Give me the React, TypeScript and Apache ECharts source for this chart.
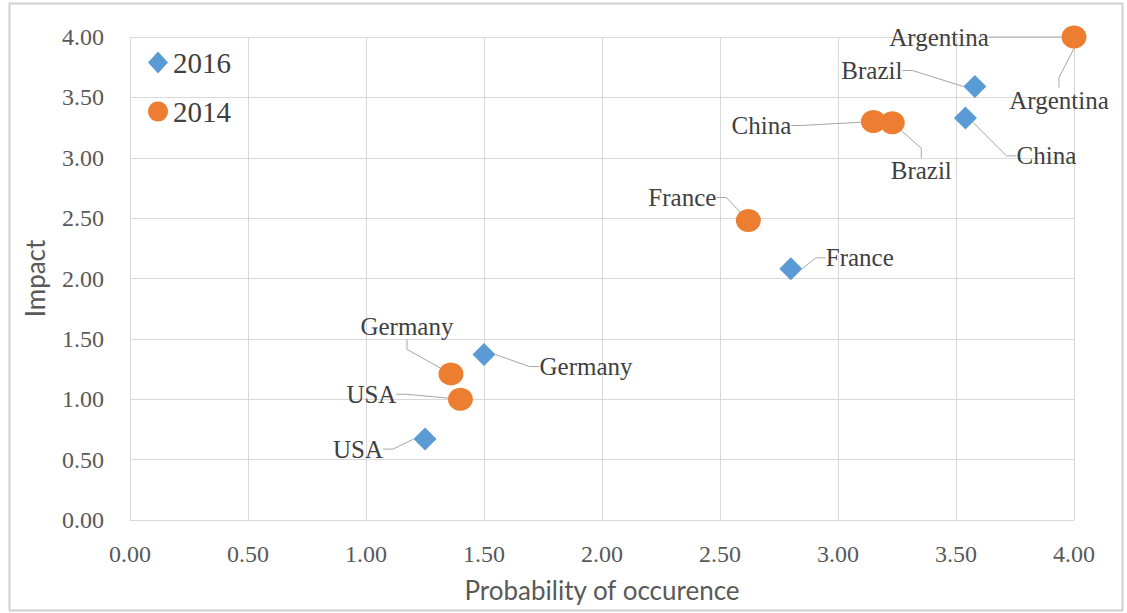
import React, { useEffect, useRef } from "react";
import * as echarts from "echarts";

// Countries plotted for each survey year
const countries2016 = ["Argentina", "Brazil", "China", "France", "Germany", "USA"];
const probability2016 = [4.0, 3.58, 3.54, 2.8, 1.5, 1.25];
const impact2016 = [4.0, 3.59, 3.33, 2.08, 1.37, 0.67];

const countries2014 = ["Argentina", "Brazil", "China", "France", "Germany", "USA"];
const probability2014 = [4.0, 3.23, 3.15, 2.62, 1.36, 1.4];
const impact2014 = [4.0, 3.29, 3.3, 2.48, 1.21, 1.0];

// Offsets (px) of each data label's centre from its point
const labelOffsets2016: [number, number][] = [
  [-15, 63],
  [-103, -16],
  [81, 38],
  [69, -11],
  [102, 12],
  [-67, 10],
];
const labelOffsets2014: [number, number][] = [
  [-135, 0],
  [29, 48],
  [-112, 4],
  [-66, -23],
  [-44, -47],
  [-89, -5],
];

const axisTicks = { min: 0, max: 4, interval: 0.5 };

const SERIF = "Liberation Serif";
const SANS = "Lato";

function buildSeries(
  name: string,
  names: string[],
  xs: number[],
  ys: number[],
  offsets: [number, number][],
  symbol: string,
  symbolSize: number | number[],
  color: string
) {
  return {
    name,
    type: "scatter",
    symbol,
    symbolSize,
    itemStyle: { color, opacity: 1 },
    data: names.map((n, i) => ({ name: n, value: [xs[i], ys[i]] })),
    label: {
      show: true,
      position: "inside",
      formatter: "{b}",
      fontFamily: SERIF,
      fontSize: 25,
      color: "#404040",
    },
    labelLayout: (params: any) => {
      const off = offsets[params.dataIndex] || [0, 0];
      return { dx: off[0], dy: off[1] };
    },
    labelLine: {
      show: true,
      length2: 10,
      lineStyle: { color: "#A6A6A6", width: 1 },
    },
  };
}

export default function App() {
  const ref = useRef<HTMLDivElement>(null);

  useEffect(() => {
    if (!ref.current) return;
    const chart = echarts.init(ref.current, undefined, { renderer: "svg" });

    const tickLabel = {
      fontFamily: SERIF,
      fontSize: 24,
      color: "#595959",
      formatter: (v: number) => v.toFixed(2),
    };

    const axisCommon = {
      type: "value",
      ...axisTicks,
      axisLine: { show: false },
      axisTick: { show: false },
      splitLine: { show: true, lineStyle: { color: "#D9D9D9", width: 1 } },
      nameTextStyle: { fontFamily: SANS, fontSize: 26, color: "#595959" },
    };

    chart.setOption({
      animation: false,
      backgroundColor: "#ffffff",
      textStyle: { fontFamily: SERIF },
      graphic: [
        {
          type: "rect",
          shape: { x: 9.5, y: 3.5, width: 1113, height: 607 },
          style: { fill: "none", stroke: "#D0D0D0", lineWidth: 2 },
          silent: true,
        },
      ],
      grid: { left: 130, right: 53, top: 37, bottom: 93, containLabel: false },
      legend: {
        orient: "vertical",
        left: 143,
        top: 43,
        itemWidth: 20,
        itemHeight: 22,
        itemGap: 20,
        itemStyle: { opacity: 1 },
        textStyle: { fontFamily: SERIF, fontSize: 29, color: "#404040", lineHeight: 28 },
        data: [
          { name: "2016", icon: "diamond" },
          { name: "2014", icon: "circle" },
        ],
      },
      xAxis: {
        ...axisCommon,
        name: "Probability of occurence",
        nameLocation: "middle",
        nameGap: 57,
        axisLabel: { ...tickLabel, margin: 22 },
      },
      yAxis: {
        ...axisCommon,
        name: "Impact",
        nameLocation: "middle",
        nameGap: 82,
        nameRotate: 90,
        axisLabel: { ...tickLabel, margin: 26 },
      },
      series: [
        buildSeries("2016", countries2016, probability2016, impact2016, labelOffsets2016, "diamond", 23, "#5B9BD5"),
        buildSeries("2014", countries2014, probability2014, impact2014, labelOffsets2014, "circle", [25, 23], "#ED7D31"),
      ],
    });

    return () => chart.dispose();
  }, []);

  return (
    <div
      ref={ref}
      style={{ position: "absolute", left: 0, top: 0, width: 1127, height: 613, background: "#fff" }}
    />
  );
}
